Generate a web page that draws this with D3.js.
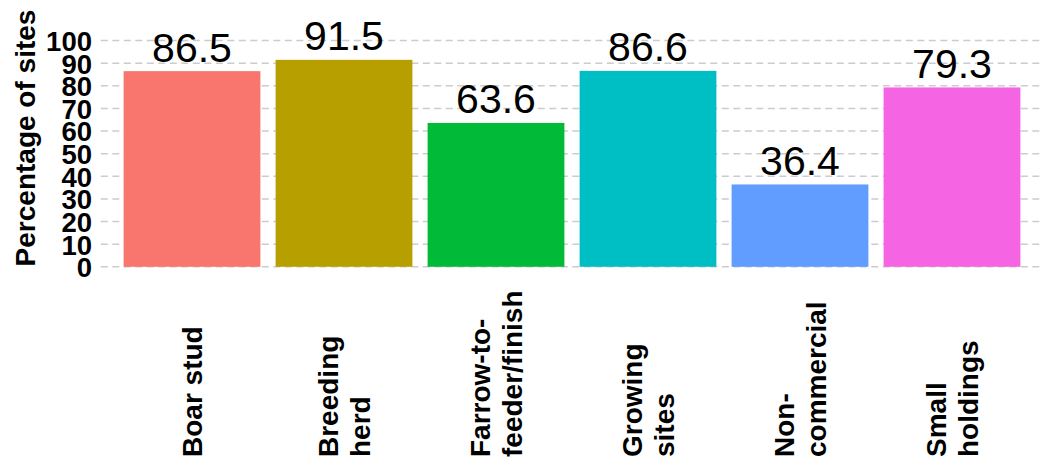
<!DOCTYPE html>
<html><head><meta charset="utf-8">
<script src="https://cdn.jsdelivr.net/npm/d3@7"></script>
<style>body{margin:0;background:#fff}svg{display:block}</style>
</head><body>
<script>
const categories = ["Boar stud", "Breeding herd", "Farrow-to-feeder/finish", "Growing sites", "Non-commercial", "Small holdings"];
const labelLines = [["Boar stud"], ["Breeding", "herd"], ["Farrow-to-", "feeder/finish"], ["Growing", "sites"], ["Non-", "commercial"], ["Small", "holdings"]];
const values = [86.5, 91.5, 63.6, 86.6, 36.4, 79.3];
const colors = ["#F8766D", "#B79F00", "#00BA38", "#00BFC4", "#619CFF", "#F564E3"];
const yTicks = [0, 10, 20, 30, 40, 50, 60, 70, 80, 90, 100];

const W = 1051, H = 465;
const svg = d3.select("body").append("svg").attr("width", W).attr("height", H);
const font = "'Liberation Sans', Arial, sans-serif";

const panelL = 100.8, panelR = 1043.2;
const step = (panelR - panelL) / (categories.length + 0.2);
const x = d3.scaleBand().domain(categories)
  .range([panelL + 0.6 * step - step / 2, panelR - 0.6 * step + step / 2])
  .paddingInner(0.1).paddingOuter(0.05);
const y = d3.scaleLinear().domain([0, 100]).range([266.8, 40.6]);

// gridlines
svg.append("g").selectAll("line").data(yTicks).join("line")
  .attr("x1", panelL).attr("x2", panelR)
  .attr("y1", d => y(d)).attr("y2", d => y(d))
  .attr("stroke", "#CCCCCC").attr("stroke-width", 1.5)
  .attr("stroke-dasharray", "7,4.5");

// y axis labels
const yAxis = d3.axisLeft(y).tickValues(yTicks).tickSize(0).tickPadding(0);
const ga = svg.append("g").attr("transform", "translate(92,0)").call(yAxis);
ga.attr("font-size", null).attr("font-family", null);
ga.select(".domain").remove();
ga.selectAll("text")
  .style("font-family", font).style("font-size", "27.5px")
  .style("font-weight", "bold").attr("fill", "#000").attr("dy", "0.36em");

// bars
svg.append("g").selectAll("rect").data(values).join("rect")
  .attr("x", (d, i) => x(categories[i]))
  .attr("width", x.bandwidth())
  .attr("y", d => y(d))
  .attr("height", d => y(0) - y(d))
  .attr("fill", (d, i) => colors[i]);

// value labels
svg.append("g").selectAll("text").data(values).join("text")
  .attr("x", (d, i) => x(categories[i]) + x.bandwidth() / 2)
  .attr("y", d => y(d) - 9.5)
  .attr("text-anchor", "middle")
  .style("font-family", font).style("font-size", "41px")
  .attr("fill", "#000")
  .text(d => d.toFixed(1));

// x labels
const xl = svg.append("g");
categories.forEach((c, i) => {
  const lines = labelLines[i];
  const cx = x(c) + x.bandwidth() / 2;
  const lh = 31.5, capH = 20;
  const n = lines.length;
  const total = capH + (n - 1) * lh;
  lines.forEach((ln, j) => {
    const lx = cx - total / 2 + capH + j * lh;
    xl.append("text")
      .attr("transform", `translate(${lx},457) rotate(-90)`)
      .attr("text-anchor", "start")
      .style("font-family", font).style("font-size", "28px")
      .style("font-weight", "bold").attr("fill", "#000")
      .text(ln);
  });
});

// y title
svg.append("text")
  .attr("transform", "translate(35,138) rotate(-90)")
  .attr("text-anchor", "middle")
  .style("font-family", font).style("font-size", "28px")
  .style("font-weight", "bold").attr("fill", "#000")
  .text("Percentage of sites");
</script>
</body></html>
